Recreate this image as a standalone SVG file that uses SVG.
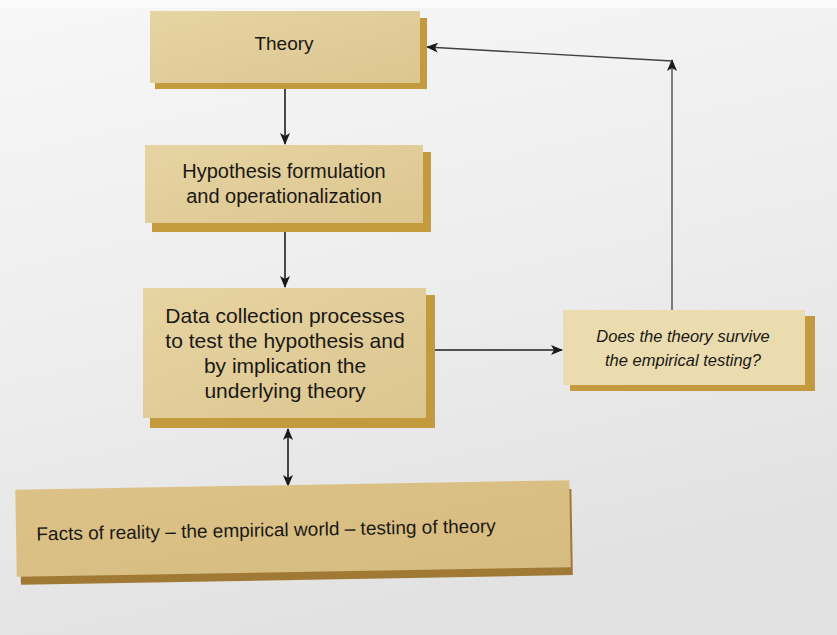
<svg xmlns="http://www.w3.org/2000/svg" width="837" height="635" viewBox="0 0 837 635">
<defs>
<linearGradient id="bg" x1="0" y1="0" x2="0.3" y2="1">
<stop offset="0" stop-color="#f7f7f7"/>
<stop offset="0.6" stop-color="#ececec"/>
<stop offset="1" stop-color="#e2e2e2"/>
</linearGradient>
<linearGradient id="boxfill" x1="0" y1="0" x2="1" y2="1">
<stop offset="0" stop-color="#e6d4a2"/>
<stop offset="1" stop-color="#dcc690"/>
</linearGradient>
<linearGradient id="factsfill" x1="0" y1="0" x2="1" y2="1">
<stop offset="0" stop-color="#dcc287"/>
<stop offset="1" stop-color="#d6bc80"/>
</linearGradient>
<marker id="ah" markerWidth="12" markerHeight="10" refX="11" refY="5" orient="auto-start-reverse" markerUnits="userSpaceOnUse">
<path d="M0,0 L12,5 L0,10 L3,5 Z" fill="#1a1a1a"/>
</marker>
</defs>
<style>
.box{fill:url(#boxfill)}
.shadow{fill:#c49a3e}
.t{font-family:"Liberation Sans",Arial,sans-serif;fill:#1a1814;text-anchor:middle}
.it{font-style:italic}
.c{stroke:#1e1e1e;stroke-width:1.6;fill:none}
.cg{stroke:#3c4044;stroke-width:1.3;fill:none}
</style>
<rect width="837" height="635" fill="url(#bg)"/>
<rect x="0" y="0" width="837" height="8" fill="#fbfbfb"/>

<g id="connectors">
<line class="c" x1="285" y1="89" x2="285" y2="144" marker-end="url(#ah)"/>
<line class="c" x1="285" y1="232" x2="285" y2="287" marker-end="url(#ah)"/>
<line class="c" x1="288" y1="429" x2="288" y2="486" marker-start="url(#ah)" marker-end="url(#ah)"/>
<line class="c" x1="435" y1="350" x2="562" y2="350" marker-end="url(#ah)"/>
<line class="cg" x1="672" y1="310" x2="672" y2="60" marker-end="url(#ah)"/>
<line class="cg" x1="672" y1="61" x2="427" y2="47" marker-end="url(#ah)"/>
</g>

<g id="theory">
<rect class="shadow" x="155" y="18" width="272" height="71"/>
<rect class="box" x="150" y="11" width="270" height="72"/>
<text class="t" x="284" y="50" font-size="19">Theory</text>
</g>

<g id="hypothesis">
<rect class="shadow" x="152" y="152" width="279" height="80"/>
<rect class="box" x="145" y="145" width="278" height="78"/>
<text class="t" font-size="20"><tspan x="284" y="178">Hypothesis formulation</tspan><tspan x="284" y="203">and operationalization</tspan></text>
</g>

<g id="data">
<rect class="shadow" x="150" y="295" width="285" height="133"/>
<rect class="box" x="143" y="288" width="283" height="130"/>
<text class="t" font-size="21"><tspan x="285" y="323">Data collection processes</tspan><tspan x="285" y="348">to test the hypothesis and</tspan><tspan x="285" y="373">by implication the</tspan><tspan x="285" y="398">underlying theory</tspan></text>
</g>

<g id="facts" transform="rotate(-1 292 528)">
<rect x="20" y="494" width="552" height="86" fill="#a07a34"/>
<rect x="16" y="485" width="554" height="87" fill="url(#factsfill)"/>
<text class="t" x="266" y="536" font-size="19">Facts of reality – the empirical world – testing of theory</text>
</g>

<g id="question">
<rect class="shadow" x="570" y="316" width="245" height="75"/>
<rect class="box" x="563" y="310" width="242" height="75" style="fill:#ebdcb0"/>
<text class="t it" font-size="16.5"><tspan x="683" y="342">Does the theory survive</tspan><tspan x="683" y="366">the empirical testing?</tspan></text>
</g>
</svg>
